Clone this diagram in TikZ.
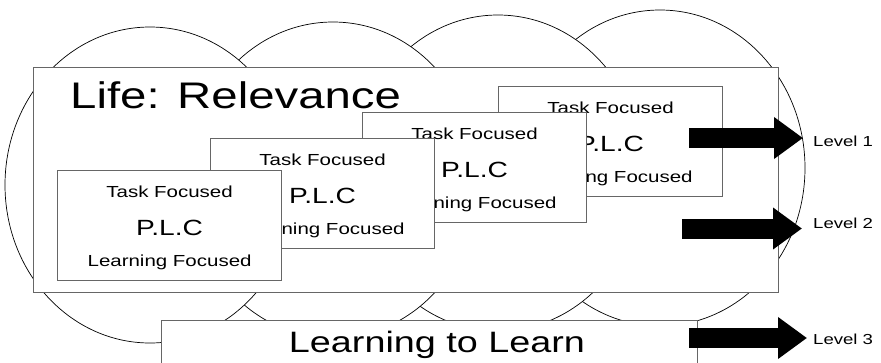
\documentclass[tikz,border=0pt]{standalone}
\usepackage{fontspec}
\setmainfont{Liberation Sans}[FakeStretch=1.28]
\usetikzlibrary{positioning,arrows.meta,calc}
\tikzset{>={Triangle[length=29pt,width=40pt]}}

\begin{document}
\begin{tikzpicture}[x=1pt, y=-1pt,
    ring/.style={draw=black, line width=0.7pt, fill=white},
    frame/.style={draw=black!60, line width=1.2pt, fill=white, inner sep=0pt},
    card/.style={frame, anchor=north west, minimum width=224pt, minimum height=110pt},
    small/.style={font=\fontsize{16}{19}\selectfont, inner sep=0pt, anchor=base},
    plc/.style={font=\fontsize{22}{26}\selectfont, inner sep=0pt, anchor=base},
    level/.style={font=\fontsize{14.5}{17}\selectfont, inner sep=0pt, anchor=west},
    block/.style={draw=black, line width=20pt, ->}]
    \clip (0,0) rectangle (881,362);
    % the four rings behind everything, right one at the back
    \foreach \cx/\cy in {660/168, 498/173, 333/180, 150/185}
        \draw[ring] (\cx,\cy) ellipse [x radius=145pt, y radius=158pt];
    % level 2 box
    \node[frame, anchor=north west, minimum width=745pt, minimum height=225pt] (life) at (33,67) {};
    \node[font=\fontsize{37}{43}\selectfont, inner sep=0pt, anchor=base west] (lifetitle)
        at ($(life.north west)+(37,41)$) {Life: Relevance};
    % the stacked cards, back to front
    \foreach \name/\x/\y in {D/498/86, C/362/112, B/210/138, A/57/170} {
        \node[card] (card\name) at (\x,\y) {};
        \node[small] (task\name) at ($(card\name.north)+(0,27)$) {Task Focused};
        \node[plc] (plc\name) at ($(card\name.north)+(0,65)$) {P.L.C};
        \node[small] (learn\name) at ($(card\name.north)+(0,96)$) {Learning Focused};
    }
    % level 3 box
    \node[frame, anchor=north west, minimum width=536pt, minimum height=80pt] (learnbox) at (161,320) {};
    \node[font=\fontsize{29.5}{34}\selectfont, inner sep=0pt, anchor=base] (learntitle)
        at (437,352) {Learning to Learn};
    % levels
    \node[level] (lev1) at (813,141) {Level 1};
    \node[level] (lev2) at (813,223.5) {Level 2};
    \node[level] (lev3) at (813,339) {Level 3};
    \coordinate (a1) at (689,138);
    \coordinate (a2) at (682,228.5);
    \coordinate (a3) at (689,338);
    \draw[block, shorten >=10pt] (a1) -- (a1 -| lev1.west);
    \draw[block, shorten >=11pt] (a2) -- (a2 -| lev2.west);
    \draw[block, shorten >=6pt] (a3) -- (a3 -| lev3.west);
\end{tikzpicture}
\end{document}
